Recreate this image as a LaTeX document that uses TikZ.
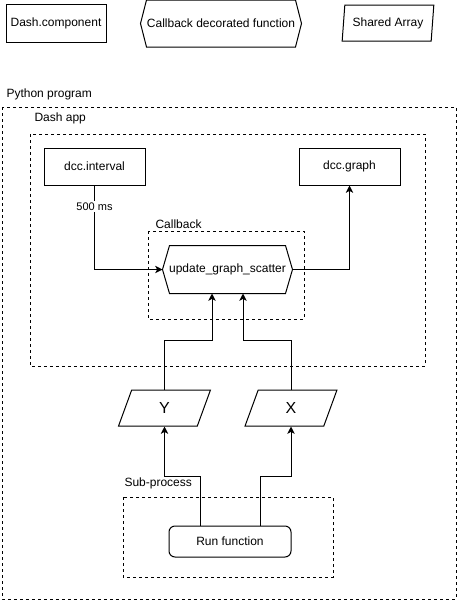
\documentclass[tikz,border=0pt]{standalone}
\usepackage{fontspec}
\setmainfont{Liberation Sans}
\usetikzlibrary{shapes.geometric,arrows.meta,calc}
\begin{document}
\begin{tikzpicture}[x=0.75pt,y=-0.75pt, line width=0.75pt, font=\fontsize{9pt}{11pt}\selectfont,
    comp/.style={draw, minimum width=75.75pt, minimum height=27.75pt, inner sep=0pt},
    hexbody/.style={minimum width=#1, minimum height=35.25pt, inner sep=0pt},
    shared/.style={draw, trapezium, trapezium left angle=79, trapezium right angle=101,
                   trapezium stretches=true, minimum width=69pt, minimum height=27pt, inner sep=0pt},
    runbox/.style={draw, rounded corners=4.5pt, minimum width=91.5pt, minimum height=23.25pt, inner sep=0pt},
    grp/.style={dash pattern=on 2.25pt off 2.25pt},
    grplabel/.style={anchor=west, inner sep=0pt},
    arr/.style={-{Stealth[length=5.5pt,width=5.5pt,inset=1.5pt]}}
  ]
    \useasboundingbox (0,0) rectangle (459,601);

    % legend
    \node (comp) [comp, minimum width=75pt, minimum height=28.5pt] at (56,23) {Dash.component};
    \node (cbleg) [hexbody=120pt, minimum height=34.5pt] at (221,23.5) {Callback decorated function};
    \draw ($(cbleg.west)$) -- ($(cbleg.north west)+(6,0)$) -- ($(cbleg.north east)+(-6,0)$) -- (cbleg.east)
        -- ($(cbleg.south east)+(-6,0)$) -- ($(cbleg.south west)+(6,0)$) -- cycle;
    \node (sharedleg) [shared] at (388,23) {Shared Array};

    % containers
    \draw[grp] (2,107) rectangle (456,599);
    \node (pylabel) [grplabel] at (6,94) {Python program};
    \draw[grp] (30,134) rectangle (425,366);
    \node (dashlabel) [grplabel] at (34,118) {Dash app};
    \draw[grp] (148,231) rectangle (304,319);
    \node (cblabel) [grplabel] at (155,224) {Callback};
    \draw[grp] (123,497) rectangle (333,577);
    \node (sublabel) [grplabel] at (124,483) {Sub-process};

    % dash components
    \node (interval) [comp] at (94.5,166.5) {dcc.interval};
    \node (graph) [comp] at (349.5,166.5) {dcc.graph};

    % callback function
    \node (upd) [hexbody=96.75pt] at (227.5,269.5) {update\_graph\_scatter};
    \draw ($(upd.west)$) -- ($(upd.north west)+(7,0)$) -- ($(upd.north east)+(-7,0)$) -- (upd.east)
        -- ($(upd.south east)+(-7,0)$) -- ($(upd.south west)+(7,0)$) -- cycle;

    % shared arrays
    \node (Y) [shared, font=\fontsize{12pt}{14pt}\selectfont] at (164.5,408) {Y};
    \node (X) [shared, font=\fontsize{12pt}{14pt}\selectfont] at (291,408) {X};

    % sub-process
    \node (run) [runbox] at (230,541.5) {Run function};

    % connectors
    \draw[arr] (interval.south) |- (upd.west)
        node[pos=0.125, fill=white, inner sep=1pt, font=\fontsize{8.25pt}{10pt}\selectfont] {500 ms};
    \draw[arr] (upd.east) -| (graph.south);
    \draw[arr] (Y.north) -- ++(0,-49) -| ($(upd.south)+(-15.5,0)$);
    \draw[arr] (X.north) -- ++(0,-49) -| ($(upd.south)+(15.5,0)$);
    \draw[arr] ($(run.north)+(-30,0)$) -- ++(0,-49) -| (Y.south);
    \draw[arr] ($(run.north)+(30,0)$) -- ++(0,-49) -| (X.south);
\end{tikzpicture}
\end{document}
